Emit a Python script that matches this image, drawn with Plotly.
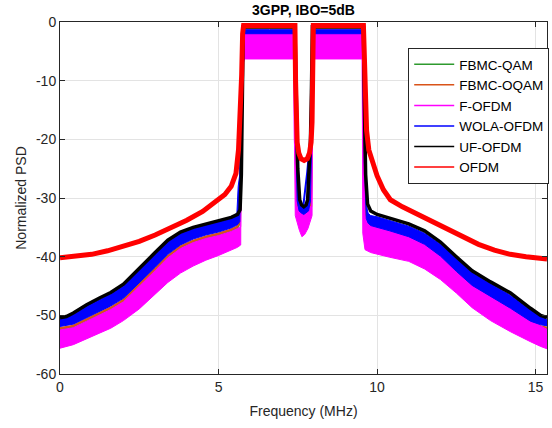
import plotly.graph_objects as go

# ---------------- data ----------------
# OFDM (red)
red_x = [0, 0.5, 1, 1.5, 2, 2.5, 3, 3.5, 4, 4.5, 5, 5.2, 5.4, 5.55, 5.63, 5.69, 5.73, 5.76, 5.79, 6.6,
         7.41, 7.43, 7.45, 7.48, 7.53, 7.6, 7.7, 7.8, 7.87, 7.92, 7.95, 7.97, 7.99, 8.8,
         9.57, 9.6, 9.63, 9.67, 9.74, 9.85, 10.0, 10.2, 10.42, 10.8, 11.2, 11.7, 12.2, 12.7, 13.2,
         13.7, 14.2, 14.7, 15.36]
red_y = [-40.2, -40.0, -39.6, -39.0, -38.3, -37.4, -36.3, -35.1, -33.8, -32.3, -30.3, -29.4, -28.0,
         -25.8, -21.8, -16, -9, -2, -0.6, -0.6,
         -0.6, -10, -17, -20.5, -22.3, -23.3, -23.6, -23.3, -22.3, -20.5, -17, -10, -0.6, -0.6,
         -0.6, -6, -14, -18.5, -21.8, -23.8, -26.2, -28.6, -30.3, -31.5, -32.6, -34.0, -35.3, -36.6,
         -37.9, -38.9, -39.6, -40.0, -40.4]

# UF-OFDM (black)
uf_x = [0, 0.2, 0.42, 0.84, 1.26, 1.6, 2.0, 2.5, 3.0, 3.4, 3.8, 4.2, 4.6, 5.0, 5.4, 5.6, 5.68, 5.72,
        5.75, 5.78, 6.6, 7.41, 7.45, 7.48, 7.50, 7.56, 7.62, 7.69, 7.76, 7.81, 7.87, 7.90, 7.93, 7.96,
        8.8, 9.57, 9.60, 9.64, 9.70, 9.8, 10.0, 10.4, 11.0, 11.5, 12.0, 12.5, 13.0, 13.58, 14.21,
        14.84, 15.16, 15.36]
uf_y = [-50.4, -50.2, -49.6, -48.2, -47.0, -46.1, -44.7, -41.9, -39.3, -37.2, -35.8, -35.0, -34.4,
        -33.9, -33.3, -32.8, -32.0, -26, -12, -0.8, -0.8, -0.8, -12, -20, -25, -30.3, -31.2, -31.5,
        -31.2, -30.3, -25, -20, -12, -0.8, -0.8, -0.8, -14, -26, -31, -32.2, -32.8, -33.4, -34.4,
        -35.6, -37.5, -40.0, -42.4, -44.3, -46.2, -48.8, -50.0, -50.4]

# WOLA-OFDM (blue), FBMC-OQAM (orange), FBMC-QAM (green): shared frequency points
band_x = [0, 0.42, 0.84, 1.26, 1.6, 2.0, 2.5, 3.0, 3.4, 3.8, 4.2, 4.6, 5.0, 5.4, 5.58, 5.62, 5.67,
          5.71, 5.75, 6.6, 7.40, 7.44, 7.48, 7.54, 7.62, 7.69, 7.76, 7.84, 7.90, 7.94, 7.97, 8.8,
          9.56, 9.60, 9.66, 9.72, 9.8, 10.0, 10.4, 11.0, 11.5, 12.0, 12.5, 13.0, 13.58, 14.21,
          14.84, 15.16, 15.36]
wola_hi = [-50.6, -49.9, -48.5, -47.3, -46.4, -45.0, -42.2, -39.6, -37.5, -36.1, -35.3, -34.7, -34.2,
           -33.6, -32.5, -28, -26, -14, -1.3, -1.3, -1.3, -14, -26, -30.2, -31.3, -31.8, -31.3,
           -30.2, -26, -14, -1.3, -1.3, -1.3, -18, -31.2, -32.6, -33.0, -33.2, -33.8, -34.8, -36.0,
           -37.9, -40.3, -42.7, -44.6, -46.6, -49.1, -50.3, -50.7]
wola_lo = [-51.9, -51.5, -50.4, -49.3, -48.4, -47.1, -44.5, -41.8, -39.6, -38.0, -37.0, -36.3, -35.8,
           -35.1, -34.6, -34.4, -34.0, -20, -2.0, -2.0, -2.0, -20, -30.5, -32.2, -32.6, -32.8,
           -32.6, -32.2, -30.5, -20, -2.0, -2.0, -2.0, -24, -33.5, -34.3, -34.7, -35.0, -35.6,
           -36.6, -37.9, -39.9, -42.5, -44.9, -46.8, -48.8, -51.0, -51.6, -51.8]
oqam_y = [-52.2, -51.8, -50.7, -49.6, -48.7, -47.4, -44.8, -42.1, -39.9, -38.3, -37.3, -36.6, -36.1,
          -35.4, -34.9, -34.6, -33.5, -20, -1.0, -1.0, -1.0, -20, -32.5, -33.0, -33.2, -33.3, -33.2,
          -33.0, -32.5, -20, -1.0, -1.0, -1.0, -24, -33.8, -34.6, -35.0, -35.3, -35.9, -36.9,
          -38.2, -40.2, -42.8, -45.2, -47.1, -49.1, -51.3, -51.9, -52.1]
qam_y = [-52.4, -52.0, -50.9, -49.8, -48.9, -47.6, -45.0, -42.3, -40.1, -38.5, -37.5, -36.8, -36.3,
         -35.6, -35.1, -34.8, -33.8, -20, -1.0, -1.0, -1.0, -20, -32.8, -33.3, -33.5, -33.6, -33.5,
         -33.3, -32.8, -20, -1.0, -1.0, -1.0, -24, -34.0, -34.8, -35.2, -35.5, -36.1, -37.1, -38.4,
         -40.4, -43.0, -45.4, -47.3, -49.3, -51.5, -52.1, -52.3]

# F-OFDM (magenta): upper and lower envelope of the noisy trace
fofdm_hi_x = [0, 0.42, 0.84, 1.26, 1.6, 2.0, 2.5, 3.0, 3.4, 3.8, 4.2, 4.6, 5.0, 5.4, 5.6, 5.70, 5.72,
              5.82, 7.37, 7.39, 7.46, 7.94, 7.95, 7.97, 9.53, 9.55, 9.62, 9.8, 10.0, 10.4, 11.0,
              11.5, 12.0, 12.5, 13.0, 13.58, 14.21, 14.84, 15.16, 15.36]
fofdm_hi_y = [-52.5, -52.1, -51.0, -49.9, -49.0, -47.7, -45.1, -42.4, -40.2, -38.6, -37.6, -36.9,
              -36.4, -35.7, -35.2, -34.9, -4, -1.9, -1.9, -20, -31.5, -31.5, -20, -1.9, -1.9, -20,
              -33.0, -33.9, -34.5, -35.3, -36.3, -37.6, -39.5, -42.0, -44.4, -46.5, -48.5, -50.6,
              -51.8, -52.4]
fofdm_lo_x = [0, 0.42, 0.84, 1.26, 1.6, 2.0, 2.5, 3.0, 3.4, 3.8, 4.2, 4.6, 5.0, 5.4, 5.6, 5.70, 5.72,
              5.82, 7.37, 7.42, 7.47, 7.55, 7.63, 7.72, 7.82, 7.90, 7.95, 7.97, 9.53, 9.55, 9.62,
              9.8, 10.0, 10.4, 11.0, 11.5, 12.0, 12.5, 13.0, 13.58, 14.21, 14.84, 15.16, 15.36]
fofdm_lo_y = [-55.6, -55.0, -54.0, -53.0, -52.2, -50.9, -48.9, -46.4, -44.4, -42.8, -41.6, -40.6,
              -39.8, -38.9, -38.4, -38.0, -8, -6.3, -6.3, -33, -33.8, -35.5, -36.6, -36.2, -35.2,
              -33.8, -33, -6.3, -6.3, -36, -38.8, -39.3, -39.6, -40.1, -40.8, -42.1, -43.9, -46.2,
              -48.7, -50.9, -52.8, -54.5, -55.3, -55.7]

# WOLA dip visible inside the UF-OFDM notch
wola_notch_x = [7.66, 7.73, 7.80, 7.86]
wola_notch_y = [-32.0, -29.0, -25.5, -22.0]

names = ["FBMC-QAM", "FBMC-OQAM", "F-OFDM", "WOLA-OFDM", "UF-OFDM", "OFDM"]
colors = ["#2e9a2e", "#d95319", "#ff00ff", "#0000ff", "#000000", "#ff0000"]

x_ticks = [0, 5, 10, 15]
y_ticks = [-60, -50, -40, -30, -20, -10, 0]

FONT = "Liberation Sans, Arial, sans-serif"

# ---------------- figure ----------------
fig = go.Figure()

# legend-only entries
for n, c in zip(names, colors):
    fig.add_trace(go.Scatter(x=[None], y=[None], mode="lines", name=n,
                             line=dict(color=c, width=1.5)))

fig.add_trace(go.Scatter(x=band_x, y=qam_y, mode="lines", showlegend=False,
                         line=dict(color=colors[0], width=2.5), hoverinfo="skip"))
fig.add_trace(go.Scatter(x=band_x, y=oqam_y, mode="lines", showlegend=False,
                         line=dict(color=colors[1], width=2.5), hoverinfo="skip"))
fig.add_trace(go.Scatter(x=fofdm_hi_x + fofdm_lo_x[::-1], y=fofdm_hi_y + fofdm_lo_y[::-1],
                         mode="lines", fill="toself", fillcolor=colors[2], showlegend=False,
                         line=dict(color=colors[2], width=1), hoverinfo="skip"))
fig.add_trace(go.Scatter(x=band_x + band_x[::-1], y=wola_hi + wola_lo[::-1],
                         mode="lines", fill="toself", fillcolor=colors[3], showlegend=False,
                         line=dict(color=colors[3], width=1), hoverinfo="skip"))
fig.add_trace(go.Scatter(x=wola_notch_x, y=wola_notch_y, mode="lines", showlegend=False,
                         line=dict(color=colors[3], width=2), hoverinfo="skip"))
fig.add_trace(go.Scatter(x=uf_x, y=uf_y, mode="lines", showlegend=False,
                         line=dict(color=colors[4], width=3.5), hoverinfo="skip"))
fig.add_trace(go.Scatter(x=red_x, y=red_y, mode="lines", showlegend=False,
                         line=dict(color=colors[5], width=5), hoverinfo="skip"))

axis_common = dict(showline=True, linecolor="#262626", linewidth=1, mirror="ticks",
                   ticks="inside", ticklen=5, tickcolor="#262626", tickwidth=1,
                   showgrid=True, gridcolor="#e3e3e3", gridwidth=1, zeroline=False,
                   automargin=False,
                   tickfont=dict(family=FONT, size=14, color="#262626"))

fig.update_xaxes(range=[0, 15.36], tickvals=x_ticks, ticktext=[str(v) for v in x_ticks],
                 title=dict(text="Frequency (MHz)", standoff=12,
                            font=dict(family=FONT, size=14, color="#262626")),
                 **axis_common)
fig.update_yaxes(range=[-60, 0], tickvals=y_ticks, ticktext=[str(v) for v in y_ticks],
                 title=dict(text="Normalized PSD", standoff=6,
                            font=dict(family=FONT, size=14, color="#262626")),
                 **axis_common)

fig.update_layout(
    width=552, height=428,
    margin=dict(l=60, r=5, t=22, b=54, autoexpand=False),
    paper_bgcolor="white", plot_bgcolor="white",
    title=dict(text="<b>3GPP, IBO=5dB</b>", x=0.5, xref="paper", y=0.977, yanchor="middle",
               automargin=False,
               font=dict(family=FONT, size=14, color="black")),
    legend=dict(x=0.715, y=0.926, xanchor="left", yanchor="top", bgcolor="white",
                bordercolor="#262626", borderwidth=1, tracegroupgap=0,
                font=dict(family=FONT, size=13.5, color="black"),
                itemwidth=40),
    showlegend=True,
)

fig.write_html("out.html", config={"displayModeBar": False},
               post_script="document.body.style.margin='0';document.body.style.padding='0';")
